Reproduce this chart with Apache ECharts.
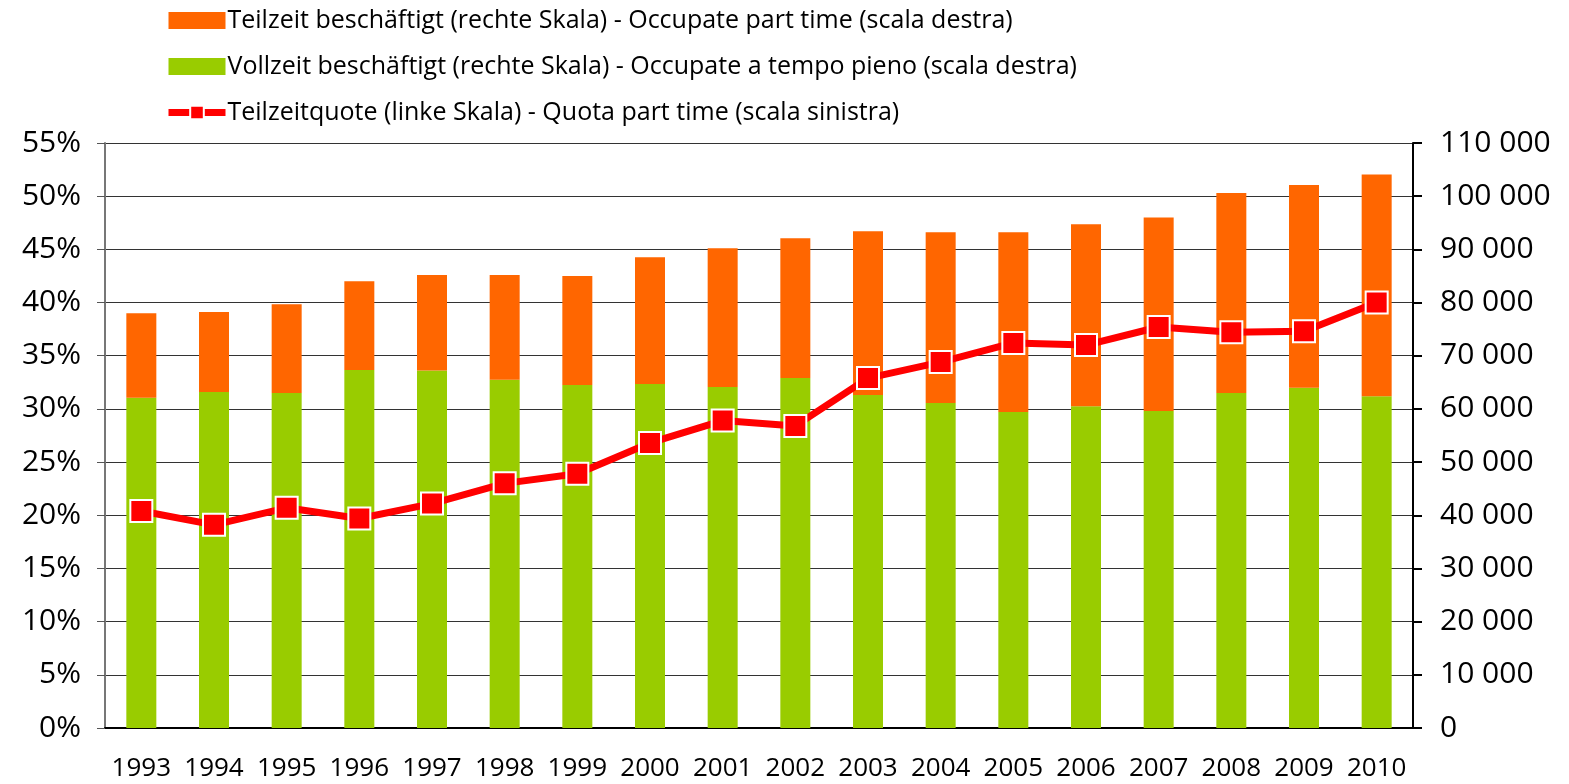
<!DOCTYPE html>
<html>
<head>
<meta charset="utf-8">
<script src="https://cdn.jsdelivr.net/npm/echarts@6/dist/echarts.min.js"></script>
<style>
  html, body { margin: 0; padding: 0; background: #fff; }
  #chart { width: 1569px; height: 784px; }
</style>
</head>
<body>
<div id="chart"></div>
<script>
// Jahre / anni
const years = ['1993', '1994', '1995', '1996', '1997', '1998', '1999', '2000', '2001',
  '2002', '2003', '2004', '2005', '2006', '2007', '2008', '2009', '2010'];
// Vollzeit beschäftigt (rechte Skala)
const vollzeit = [62100, 63200, 63000, 67300, 67200, 65500, 64500, 64700, 64100,
  65800, 62600, 61100, 59400, 60500, 59600, 63000, 64000, 62400];
// Teilzeit beschäftigt (rechte Skala)
const teilzeit = [15900, 15000, 16700, 16700, 18000, 19700, 20500, 23800, 26100,
  26300, 30800, 32100, 33800, 34200, 36400, 37600, 38100, 41700];
// Teilzeitquote (linke Skala)
const quote = [0.204, 0.191, 0.207, 0.197, 0.211, 0.230, 0.239, 0.268, 0.289,
  0.284, 0.329, 0.344, 0.362, 0.360, 0.377, 0.372, 0.373, 0.400];

const names = [
  'Teilzeit beschäftigt (rechte Skala) - Occupate part time (scala destra)',
  'Vollzeit beschäftigt (rechte Skala) - Occupate a tempo pieno (scala destra)',
  'Teilzeitquote (linke Skala) - Quota part time (scala sinistra)'
];

const font = 'Open Sans';
const chart = echarts.init(document.getElementById('chart'));

chart.setOption({
  animation: false,
  textStyle: { fontFamily: font, color: '#000' },
  legend: {
    orient: 'vertical',
    left: 160,
    top: 3,
    itemWidth: 57,
    itemHeight: 17,
    itemGap: 21,
    data: [
      { name: names[0], icon: 'rect' },
      { name: names[1], icon: 'rect' },
      { name: names[2], lineStyle: { width: 7 } }
    ],
    textStyle: { fontSize: 25, color: '#000', fontFamily: font, padding: [0, 0, 0, -3] }
  },
  grid: { left: 105, right: 156, top: 143, bottom: 56 },
  xAxis: {
    type: 'category',
    data: years,
    axisLine: { lineStyle: { color: '#000', width: 2 } },
    axisTick: { length: 8, lineStyle: { color: '#000', width: 2 } },
    axisLabel: { fontSize: 26, color: '#000', margin: 28, interval: 0 }
  },
  yAxis: [
    {
      type: 'value',
      min: 0, max: 0.55, interval: 0.05,
      axisLine: { show: true, lineStyle: { color: '#777', width: 2 } },
      axisTick: { show: true, length: 8, lineStyle: { color: '#555' } },
      axisLabel: {
        fontSize: 30, color: '#000', margin: 24,
        formatter: v => Math.round(v * 100) + '%'
      },
      splitLine: { lineStyle: { color: '#333', width: 1.2 } }
    },
    {
      type: 'value',
      min: 0, max: 110000, interval: 10000,
      axisLine: { show: true, lineStyle: { color: '#000', width: 2 } },
      axisTick: { show: true, length: 9, lineStyle: { color: '#000', width: 2 } },
      axisLabel: {
        fontSize: 30, color: '#000', margin: 27,
        formatter: v => v === 0 ? '0' : String(v).replace(/\B(?=(\d{3})+(?!\d))/g, ' ')
      },
      splitLine: { show: false }
    }
  ],
  series: [
    {
      name: names[1],
      type: 'bar',
      yAxisIndex: 1,
      stack: 'tot',
      barWidth: 30,
      itemStyle: { color: '#99CC00' },
      data: vollzeit
    },
    {
      name: names[0],
      type: 'bar',
      yAxisIndex: 1,
      stack: 'tot',
      barWidth: 30,
      itemStyle: { color: '#FF6600' },
      data: teilzeit
    },
    {
      name: names[2],
      type: 'line',
      yAxisIndex: 0,
      symbol: 'rect',
      symbolSize: 22,
      lineStyle: { color: '#FF0000', width: 7 },
      itemStyle: { color: '#FF0000', borderColor: '#fff', borderWidth: 2 },
      data: quote
    }
  ]
});
</script>
</body>
</html>
